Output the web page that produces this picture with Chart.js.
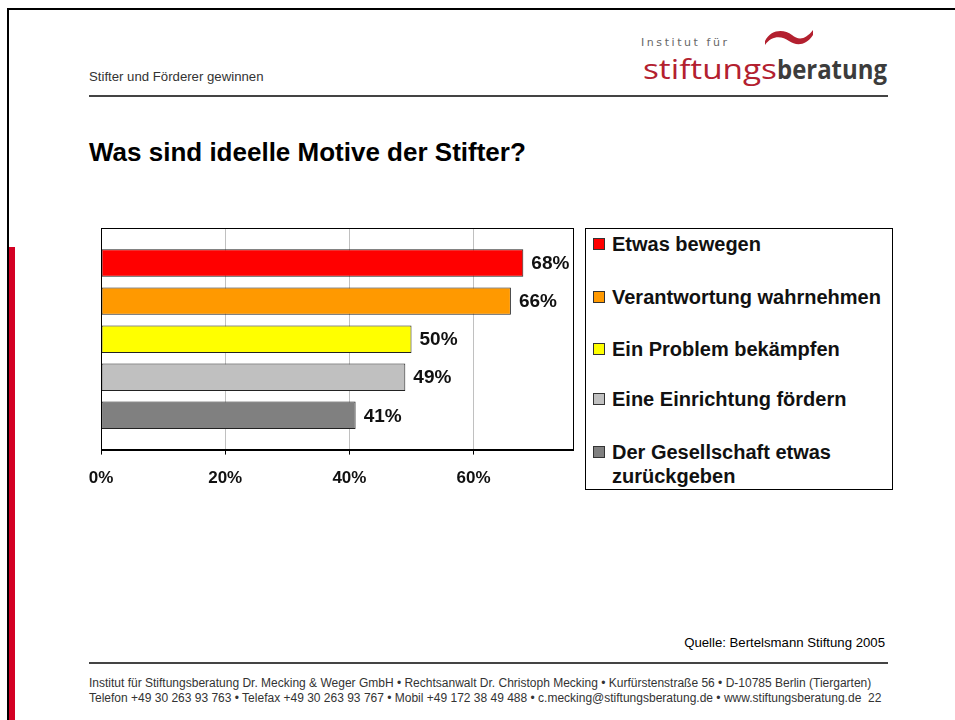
<!DOCTYPE html>
<html>
<head>
<meta charset="utf-8">
<script src="https://cdn.jsdelivr.net/npm/chart.js@4/dist/chart.umd.min.js"></script>
<style>
  html, body { margin: 0; padding: 0; background: #fff; }
  body { width: 955px; height: 720px; position: relative; overflow: hidden; font-family: "Liberation Sans", Arial, sans-serif; }
  .abs { position: absolute; }
  #frameTop { left: 7px; top: 8px; width: 948px; height: 2px; background: #000; }
  #frameLeft { left: 7px; top: 8px; width: 2px; height: 712px; background: #000; }
  #redBar { left: 9px; top: 247px; width: 6px; height: 473px; background: #d40023; }
  #subtitle { left: 89px; top: 69px; font-size: 13.2px; color: #333; white-space: nowrap; }
  #hline1 { left: 89px; top: 95px; width: 799px; height: 2px; background: #444; }
  #title { left: 89px; top: 137px; font-size: 26px; font-weight: bold; color: #000; white-space: nowrap; }
  #chartBox { left: 60px; top: 215px; }
  #legend { left: 585px; top: 228px; width: 306px; height: 260px; border: 1px solid #000; box-sizing: content-box; }
  .item { position: absolute; left: 7px; font-size: 20px; font-weight: bold; line-height: 24px; color: #111; width: 290px; }
  .sw { position: absolute; left: 0; top: 6px; width: 10px; height: 10px; border: 1px solid #333; }
  .lbl { display: block; padding-left: 19px; }
  #source { left: 600px; width: 285px; text-align: right; top: 635px; font-size: 13.2px; color: #000; white-space: nowrap; }
  #hline2 { left: 89px; top: 662px; width: 799px; height: 2px; background: #444; }
  #foot { left: 89px; top: 676px; font-size: 12px; line-height: 15px; color: #333; white-space: nowrap; }
</style>
</head>
<body>
<div id="frameTop" class="abs"></div>
<div id="frameLeft" class="abs"></div>
<div id="redBar" class="abs"></div>

<div id="subtitle" class="abs">Stifter und Förderer gewinnen</div>
<svg class="abs" style="left:0;top:0" width="955" height="100">
  <text x="641" y="46" font-family="DejaVu Sans, Liberation Sans" font-size="11" fill="#666" textLength="86" lengthAdjust="spacing">Institut für</text>
  <path d="M765,41 C771,29 784,29 792,35 C799,41 806,39 813,30 L813,35 C806,46 796,46 789,41 C782,36 772,35 765,45 Z" fill="#b3202f"/>
  <text x="643" y="79" font-family="Open Sans, DejaVu Sans, sans-serif" font-size="27" fill="#b3202f" textLength="134" lengthAdjust="spacingAndGlyphs">stiftungs</text>
  <text x="777" y="79" font-family="Open Sans, DejaVu Sans, sans-serif" font-weight="bold" font-size="27" fill="#3c3c3c" textLength="110" lengthAdjust="spacingAndGlyphs">beratung</text>
</svg>
<div id="hline1" class="abs"></div>

<div id="title" class="abs">Was sind ideelle Motive der Stifter?</div>

<div id="chartBox" class="abs"><canvas id="chart" width="520" height="290"></canvas></div>
<div id="legend" class="abs"></div>

<div id="source" class="abs">Quelle: Bertelsmann Stiftung 2005</div>
<div id="hline2" class="abs"></div>
<div id="foot" class="abs">Institut für Stiftungsberatung Dr. Mecking &amp; Weger GmbH • Rechtsanwalt Dr. Christoph Mecking • Kurfürstenstraße 56 • D-10785 Berlin (Tiergarten)<br>Telefon +49 30 263 93 763 • Telefax +49 30 263 93 767 • Mobil +49 172 38 49 488 • c.mecking@stiftungsberatung.de • www.stiftungsberatung.de&nbsp;&nbsp;22</div>

<script>
const motives = ['Etwas bewegen', 'Verantwortung wahrnehmen', 'Ein Problem bekämpfen', 'Eine Einrichtung fördern', 'Der Gesellschaft etwas zurückgeben'];
const shares = [68, 66, 50, 49, 41];
const barColors = ['#ff0000', '#ff9900', '#ffff00', '#c0c0c0', '#808080'];
const xTicks = [0, 20, 40, 60];

// legend (html, built from the same arrays)
const legendTops = [3, 56, 108, 158, 211];
const legend = document.getElementById('legend');
motives.forEach((m, i) => {
  const d = document.createElement('div');
  d.className = 'item';
  d.style.top = legendTops[i] + 'px';
  d.innerHTML = '<span class="sw" style="background:' + barColors[i] + '"></span><span class="lbl">' + m + '</span>';
  legend.appendChild(d);
});

const frame = {
  id: 'frame',
  afterDraw(chart) {
    const a = chart.chartArea, ctx = chart.ctx;
    ctx.save();
    ctx.strokeStyle = '#000';
    ctx.lineWidth = 1;
    ctx.strokeRect(Math.round(a.left) + 0.5, Math.round(a.top) + 0.5, Math.round(a.right - a.left), Math.round(a.bottom - a.top));
    ctx.restore();
  }
};

const valueLabels = {
  id: 'valueLabels',
  afterDatasetsDraw(chart) {
    const ctx = chart.ctx;
    ctx.save();
    ctx.font = 'bold 19px "Liberation Sans", Arial, sans-serif';
    ctx.fillStyle = '#111';
    ctx.textBaseline = 'middle';
    chart.getDatasetMeta(0).data.forEach((bar, i) => {
      ctx.fillText(shares[i] + '%', bar.x + 8, bar.y + 1);
    });
    ctx.restore();
  }
};

new Chart(document.getElementById('chart'), {
  type: 'bar',
  data: {
    datasets: [{
      data: shares.map((v, i) => ({ x: v, y: i })),
      backgroundColor: barColors,
      borderColor: '#222',
      borderWidth: 1,
      borderSkipped: false,
      barPercentage: 0.72,
      categoryPercentage: 1
    }]
  },
  options: {
    indexAxis: 'y',
    responsive: false,
    animation: false,
    layout: { padding: { left: 41, right: 7, top: 13, bottom: 2 } },
    plugins: { legend: { display: false }, tooltip: { enabled: false } },
    scales: {
      y: {
        type: 'linear', min: -0.92, max: 4.9, reverse: true, offset: false, display: false,
        afterBuildTicks(s) { s.ticks = motives.map((m, i) => ({ value: i })); }
      },
      x: {
        type: 'linear', min: 0, max: 76,
        afterBuildTicks(s) { s.ticks = xTicks.map(v => ({ value: v })); },
        grid: { color: '#c0c0c0', tickColor: '#000', tickLength: 5 },
        border: { color: '#000' },
        ticks: {
          padding: 14,
          color: '#111',
          font: { family: '"Liberation Sans", Arial, sans-serif', size: 17, weight: 'bold' },
          callback: v => v + '%'
        }
      }
    }
  },
  plugins: [frame, valueLabels]
});
</script>
</body>
</html>
